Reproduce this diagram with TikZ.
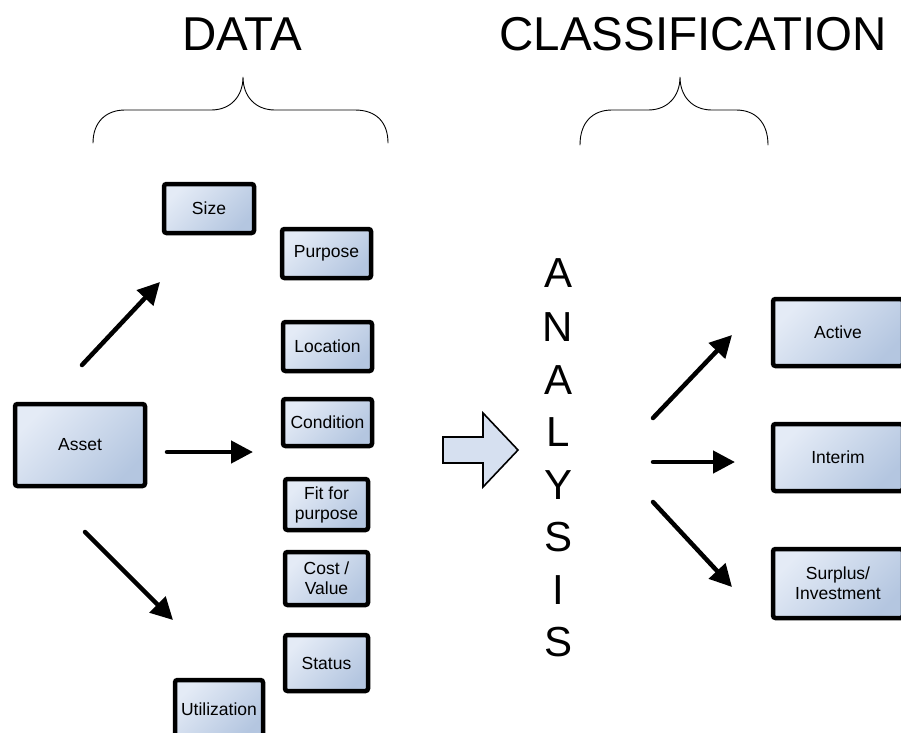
\documentclass[tikz,border=0pt]{standalone}
\usepackage{fontspec}
\setmainfont{Liberation Sans}
\usetikzlibrary{arrows.meta}
\definecolor{boxlight}{HTML}{E4EBF6}
\definecolor{boxdark}{HTML}{B4C6E0}
\definecolor{blockfill}{HTML}{D6E0F0}
\tikzset{
  box/.style={draw=black, line width=4.5pt, rounded corners=2.5pt,
    top color=boxlight, bottom color=boxdark, shading angle=45,
    align=center, font=\fontsize{17.5}{20}\selectfont, inner sep=1pt},
  flow/.style={line width=4.5pt, line cap=round,
    -{Triangle[length=22pt,width=22pt,line cap=butt]}},
  brace/.style={line width=0.9pt, line cap=round},
  title/.style={font=\fontsize{47.5}{52}\selectfont},
  letter/.style={font=\fontsize{42}{44}\selectfont, inner sep=0pt}
}
\begin{document}
\begin{tikzpicture}[x=1pt, y=-1pt]
\useasboundingbox (0,0) rectangle (901,732);
\clip (0,0) rectangle (901,732);

% headings
\node[title] (data) at (242,34) {DATA};
\node[title] (classif) at (693,34) {CLASSIFICATION};

% curly braces under the headings
\draw[brace] (93,143) .. controls (93,122) and (106,110) .. (125,110)
  -- (211,110) .. controls (231,110) and (243,96) .. (243,77)
  .. controls (243,96) and (255,110) .. (275,110)
  -- (355,110) .. controls (376,110) and (388,122) .. (388,143);
\draw[brace] (580,145) .. controls (580,123) and (592,110) .. (612,110)
  -- (648,110) .. controls (668,110) and (680,96) .. (680,77)
  .. controls (680,96) and (692,110) .. (712,110)
  -- (736,110) .. controls (756,110) and (768,123) .. (768,145);

% source asset
\node[box, minimum width=130pt, minimum height=82pt] (asset) at (80,445) {Asset};

% data attributes
\node[box, minimum width=90pt, minimum height=49pt] (size) at (209,208.5) {Size};
\node[box, minimum width=89pt, minimum height=49pt] (purpose) at (326.5,253.5) {Purpose};
\node[box, minimum width=89pt, minimum height=49pt] (location) at (327.5,346.5) {Location};
\node[box, minimum width=89pt, minimum height=47pt] (condition) at (327.5,422.5) {Condition};
\node[box, minimum width=83pt, minimum height=51pt] (fit) at (326.5,504.5) {Fit for\\purpose};
\node[box, minimum width=83pt, minimum height=53pt] (cost) at (326.5,578.5) {Cost /\\Value};
\node[box, minimum width=83pt, minimum height=56pt] (status) at (326.5,663) {Status};
\node[box, minimum width=88pt, minimum height=58pt] (util) at (219,709) {Utilization};

% classification results
\node[box, minimum width=130pt, minimum height=67pt] (active) at (838,332.5) {Active};
\node[box, minimum width=130pt, minimum height=67pt] (interim) at (838,457.5) {Interim};
\node[box, minimum width=130pt, minimum height=69pt] (surplus) at (838,583.5) {Surplus/\\Investment};

% vertical ANALYSIS label
\foreach \ch/\yy [count=\i] in {A/273, N/327, A/380, L/432, Y/485, S/537, I/590, S/642}
  \node[letter] (an\i) at (558,\yy) {\ch};

% block arrow into the analysis step
\draw[line width=1.6pt, fill=blockfill, line join=miter]
  (443,437) -- (483,437) -- (483,413) -- (518,450) -- (483,487) -- (483,463) -- (443,463) -- cycle;

% arrow end points
\coordinate (a1s) at (82,365);  \coordinate (a1e) at (160,282);
\coordinate (a2s) at (167,452); \coordinate (a2e) at (253,452);
\coordinate (a3s) at (85,532);  \coordinate (a3e) at (173,620);
\coordinate (r1s) at (653,418); \coordinate (r1e) at (732,335);
\coordinate (r2s) at (653,462); \coordinate (r2e) at (735,462);
\coordinate (r3s) at (653,502); \coordinate (r3e) at (732,587);

\draw[flow] (a1s) -- (a1e);
\draw[flow] (a2s) -- (a2e);
\draw[flow] (a3s) -- (a3e);
\draw[flow] (r1s) -- (r1e);
\draw[flow] (r2s) -- (r2e);
\draw[flow] (r3s) -- (r3e);
\end{tikzpicture}
\end{document}
